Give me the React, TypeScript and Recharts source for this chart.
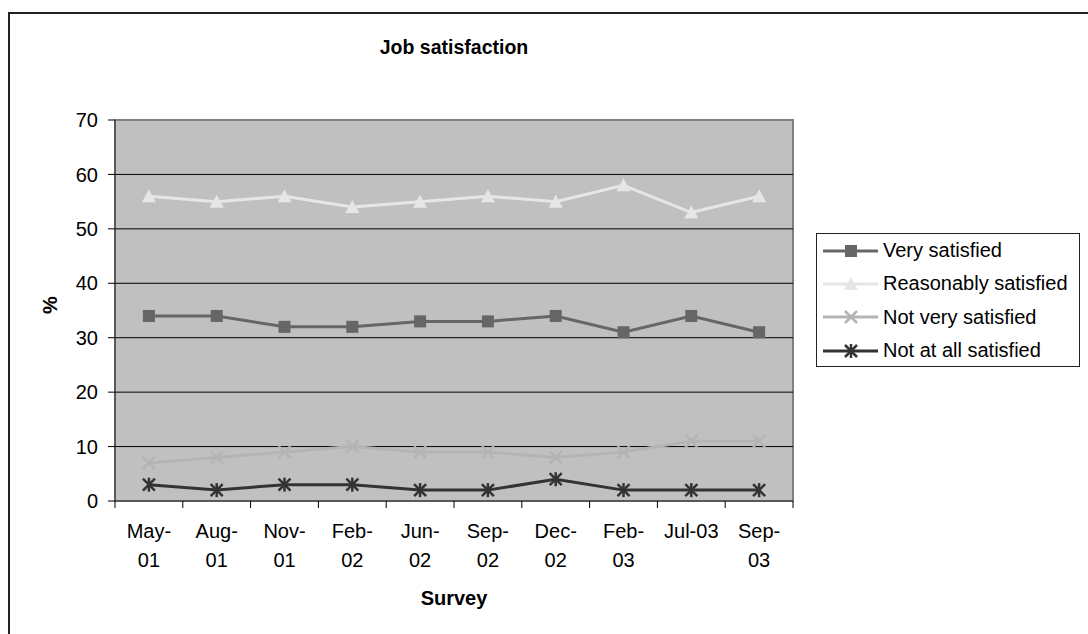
import React from 'react';
import {
  LineChart, Line, XAxis, YAxis, CartesianGrid, Legend,
} from 'recharts';

const surveys = ['May-01', 'Aug-01', 'Nov-01', 'Feb-02', 'Jun-02', 'Sep-02', 'Dec-02', 'Feb-03', 'Jul-03', 'Sep-03'];
// how each survey label wraps under the axis
const surveyTickLines = [
  ['May-', '01'], ['Aug-', '01'], ['Nov-', '01'], ['Feb-', '02'], ['Jun-', '02'],
  ['Sep-', '02'], ['Dec-', '02'], ['Feb-', '03'], ['Jul-03'], ['Sep-', '03'],
];

const verySatisfied = [34, 34, 32, 32, 33, 33, 34, 31, 34, 31];
const reasonablySatisfied = [56, 55, 56, 54, 55, 56, 55, 58, 53, 56];
const notVerySatisfied = [7, 8, 9, 10, 9, 9, 8, 9, 11, 11];
const notAtAllSatisfied = [3, 2, 3, 3, 2, 2, 4, 2, 2, 2];

const yTicks = [0, 10, 20, 30, 40, 50, 60, 70];
const gridValues = [10, 20, 30, 40, 50, 60];

const data = surveys.map((s, i) => ({
  survey: s,
  very: verySatisfied[i],
  reasonably: reasonablySatisfied[i],
  notVery: notVerySatisfied[i],
  notAtAll: notAtAllSatisfied[i],
}));

const FONT = '"Liberation Sans", Arial, sans-serif';
const PLOT = { left: 115, top: 120, right: 793, bottom: 501 };
const PLOT_W = PLOT.right - PLOT.left;
const HALF_BAND = PLOT_W / surveys.length / 2;

type MarkerKind = 'square' | 'triangle' | 'cross' | 'star';

const series: { key: string; name: string; color: string; marker: MarkerKind }[] = [
  { key: 'very', name: 'Very satisfied', color: '#666666', marker: 'square' },
  { key: 'reasonably', name: 'Reasonably satisfied', color: '#E6E6E6', marker: 'triangle' },
  { key: 'notVery', name: 'Not very satisfied', color: '#B4B4B4', marker: 'cross' },
  { key: 'notAtAll', name: 'Not at all satisfied', color: '#333333', marker: 'star' },
];

function Marker({ kind, cx, cy, color }: { kind: MarkerKind; cx: number; cy: number; color: string }) {
  if (kind === 'square') {
    return <rect x={cx - 6} y={cy - 6} width={12} height={12} fill={color} />;
  }
  if (kind === 'triangle') {
    return <polygon points={`${cx},${cy - 7} ${cx + 7},${cy + 6} ${cx - 7},${cy + 6}`} fill={color} />;
  }
  if (kind === 'cross') {
    return (
      <g stroke={color} strokeWidth={2.5}>
        <line x1={cx - 6} y1={cy - 6} x2={cx + 6} y2={cy + 6} />
        <line x1={cx - 6} y1={cy + 6} x2={cx + 6} y2={cy - 6} />
      </g>
    );
  }
  return (
    <g stroke={color} strokeWidth={2.5}>
      <line x1={cx - 6} y1={cy - 6} x2={cx + 6} y2={cy + 6} />
      <line x1={cx - 6} y1={cy + 6} x2={cx + 6} y2={cy - 6} />
      <line x1={cx} y1={cy - 7} x2={cx} y2={cy + 7} />
    </g>
  );
}

const SurveyTick = (props: any) => {
  const { x, y, payload, index } = props;
  const i = payload?.index ?? index;
  const lines = surveyTickLines[i] ?? [String(payload.value)];
  const last = i === surveys.length - 1;
  return (
    <g>
      <line x1={x - HALF_BAND} x2={x - HALF_BAND} y1={y} y2={y + 7} stroke="#000" />
      {last && <line x1={x + HALF_BAND} x2={x + HALF_BAND} y1={y} y2={y + 7} stroke="#000" />}
      {lines.map((t: string, k: number) => (
        <text key={k} x={x} y={y + 37 + k * 29} textAnchor="middle" fontSize={20} fontFamily={FONT} fill="#000">
          {t}
        </text>
      ))}
    </g>
  );
};

const LegendBox = () => (
  <div style={{
    border: '1px solid #222', width: 264, height: 134, boxSizing: 'border-box',
    background: '#fff', fontFamily: FONT, fontSize: 20, color: '#000',
  }}>
    {series.map((s) => (
      <div key={s.key} style={{ display: 'flex', alignItems: 'center', height: 33.3 }}>
        <svg width={55} height={20} style={{ marginLeft: 6, marginRight: 5 }}>
          <line x1={0} x2={55} y1={10} y2={10} stroke={s.color} strokeWidth={3} />
          <Marker kind={s.marker} cx={28} cy={10} color={s.color} />
        </svg>
        <span style={{ whiteSpace: 'nowrap' }}>{s.name}</span>
      </div>
    ))}
  </div>
);

export default function App() {
  return (
    <div style={{ position: 'absolute', left: 0, top: 0, width: 1088, height: 634, overflow: 'hidden', background: '#fff', fontFamily: FONT }}>
      <div style={{ position: 'absolute', left: 8, top: 12, width: 1200, height: 800, border: '2px solid #222' }} />
      {/* plot area background and frame, sits under the svg */}
      <div style={{
        position: 'absolute', left: PLOT.left - 1, top: PLOT.top - 1,
        width: PLOT_W + 2, height: PLOT.bottom - PLOT.top + 2,
        boxSizing: 'border-box', border: '2px solid #808080', background: '#C0C0C0',
      }} />
      <div style={{ position: 'absolute', left: 115, width: 678, top: 36, textAlign: 'center', fontSize: 19.5, fontWeight: 'bold', lineHeight: '22px' }}>
        Job satisfaction
      </div>
      <div style={{ position: 'absolute', left: 40, top: 294, width: 20, height: 22, lineHeight: '22px', textAlign: 'center', fontSize: 20, fontWeight: 'bold', transform: 'rotate(-90deg)' }}>
        %
      </div>
      <div style={{ position: 'absolute', left: 115, width: 678, top: 586, textAlign: 'center', fontSize: 20, fontWeight: 'bold', lineHeight: '24px' }}>
        Survey
      </div>
      <div style={{ position: 'absolute', left: 0, top: 0 }}>
        <LineChart width={1088} height={634} data={data} margin={{ top: PLOT.top, right: 1088 - PLOT.right, bottom: 0, left: 0 }}>
          <CartesianGrid vertical={false} stroke="#000" horizontalValues={gridValues} />
          <XAxis
            dataKey="survey"
            height={634 - PLOT.bottom}
            padding={{ left: HALF_BAND, right: HALF_BAND }}
            tickSize={0}
            tickMargin={0}
            tickLine={false}
            interval={0}
            axisLine={{ stroke: '#333', strokeWidth: 1 }}
            tick={<SurveyTick />}
          />
          <YAxis
            width={PLOT.left}
            domain={[0, 70]}
            ticks={yTicks}
            interval={0}
            tickSize={7}
            tickMargin={10}
            axisLine={{ stroke: '#333', strokeWidth: 1 }}
            tickLine={{ stroke: '#000' }}
            tick={{ fontSize: 20, fontFamily: FONT, fill: '#000' }}
          />
          {series.map((s) => (
            <Line
              key={s.key}
              dataKey={s.key}
              name={s.name}
              type="linear"
              stroke={s.color}
              strokeWidth={3}
              isAnimationActive={false}
              dot={(p: any) => <Marker key={`${s.key}-${p.index}`} kind={s.marker} cx={p.cx} cy={p.cy} color={s.color} />}
              activeDot={false}
            />
          ))}
          <Legend
            layout="vertical"
            align="center"
            verticalAlign="middle"
            content={<LegendBox />}
            wrapperStyle={{ left: 816, top: 233, width: 264, height: 134 }}
          />
        </LineChart>
      </div>
    </div>
  );
}
